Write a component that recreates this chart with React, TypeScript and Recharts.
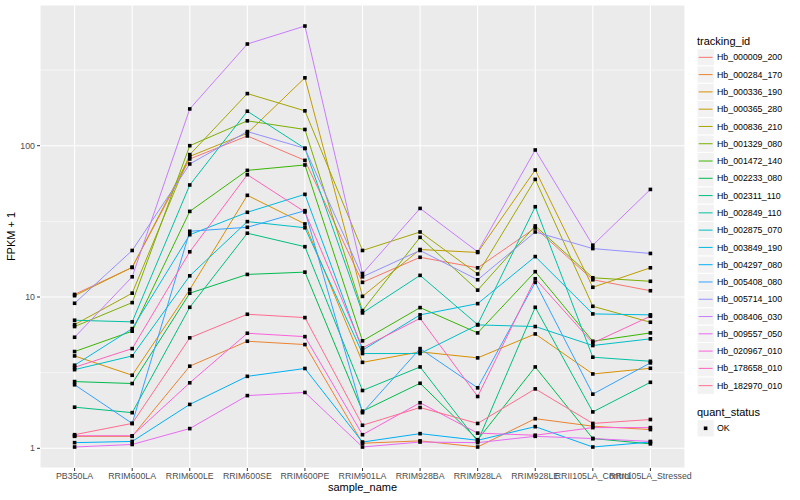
import { LineChart, Line, XAxis, YAxis, CartesianGrid } from 'recharts';

// sample order on the x axis
const samples = [
  'PB350LA', 'RRIM600LA', 'RRIM600LE', 'RRIM600SE', 'RRIM600PE', 'RRIM901LA',
  'RRIM928BA', 'RRIM928LA', 'RRIM928LE', 'RRII105LA_Control', 'RRII105LA_Stressed',
];

// FPKM + 1 per tracking_id, one value per sample
const hb_000009_200 = [10.4, 15.7, 81.7, 116, 80.0, 12.5, 18.3, 15.6, 28.6, 13.0, 11.0];
const hb_000284_170 = [1.2, 1.2, 3.49, 5.1, 4.85, 1.08, 1.12, 1.02, 1.57, 1.4, 1.33];
const hb_000336_190 = [4.08, 3.04, 11.2, 47.0, 30.4, 3.7, 4.34, 3.96, 5.7, 3.1, 3.38];
const hb_000365_280 = [10.2, 15.7, 85.0, 121, 281, 10.1, 20.6, 19.7, 69.1, 11.6, 15.6];
const hb_000836_210 = [6.57, 10.6, 87.3, 221, 170, 20.3, 26.9, 14.2, 59.9, 8.68, 6.81];
const hb_001329_080 = [6.38, 9.18, 100, 146, 128, 8.13, 24.8, 11.1, 29.5, 13.4, 12.7];
const hb_001472_140 = [4.36, 5.94, 36.8, 68.7, 74.6, 5.13, 8.51, 5.79, 14.7, 5.1, 5.79];
const hb_002233_080 = [2.76, 2.68, 10.6, 14.1, 14.6, 1.76, 2.69, 1.14, 3.45, 1.16, 1.07];
const hb_002311_110 = [1.87, 1.72, 8.55, 26.4, 21.5, 2.41, 3.45, 1.11, 8.55, 1.74, 2.73];
const hb_002849_110 = [7.02, 6.85, 55.0, 169, 96.0, 7.85, 13.9, 6.57, 39.5, 4.0, 3.76];
const hb_002875_070 = [3.31, 4.08, 13.8, 31.5, 28.7, 4.23, 4.23, 6.54, 6.38, 4.78, 5.29];
const hb_003849_190 = [3.54, 6.18, 25.8, 36.3, 47.7, 4.45, 7.62, 9.04, 18.5, 7.73, 7.62];
const hb_004297_080 = [1.09, 1.11, 1.95, 2.99, 3.37, 1.1, 1.25, 1.13, 1.39, 1.02, 1.1];
const hb_005408_080 = [2.63, 1.46, 27.2, 28.9, 37.2, 1.72, 4.56, 2.51, 12.5, 2.28, 3.67];
const hb_005714_100 = [9.09, 20.3, 75.7, 124, 96.0, 13.6, 20.3, 13.0, 26.9, 20.9, 19.4];
const hb_008406_030 = [5.42, 13.6, 175, 470, 618, 14.3, 38.5, 19.9, 93.7, 22.0, 51.4];
const hb_009557_050 = [1.02, 1.06, 1.35, 2.23, 2.34, 1.02, 1.1, 1.09, 1.2, 1.16, 1.11];
const hb_020967_010 = [1.21, 1.21, 2.71, 5.76, 5.47, 1.23, 2.0, 1.26, 1.22, 1.37, 1.37];
const hb_178658_010 = [3.43, 4.56, 19.9, 64.3, 36.5, 4.61, 7.23, 2.2, 13.2, 4.97, 7.46];
const hb_182970_010 = [1.23, 1.46, 5.37, 7.69, 7.31, 1.42, 1.86, 1.46, 2.47, 1.46, 1.55];

const trackingIds = [
  'Hb_000009_200', 'Hb_000284_170', 'Hb_000336_190', 'Hb_000365_280', 'Hb_000836_210',
  'Hb_001329_080', 'Hb_001472_140', 'Hb_002233_080', 'Hb_002311_110', 'Hb_002849_110',
  'Hb_002875_070', 'Hb_003849_190', 'Hb_004297_080', 'Hb_005408_080', 'Hb_005714_100',
  'Hb_008406_030', 'Hb_009557_050', 'Hb_020967_010', 'Hb_178658_010', 'Hb_182970_010',
];
const seriesValues = [
  hb_000009_200, hb_000284_170, hb_000336_190, hb_000365_280, hb_000836_210,
  hb_001329_080, hb_001472_140, hb_002233_080, hb_002311_110, hb_002849_110,
  hb_002875_070, hb_003849_190, hb_004297_080, hb_005408_080, hb_005714_100,
  hb_008406_030, hb_009557_050, hb_020967_010, hb_178658_010, hb_182970_010,
];

const yTicks = [1, 10, 100];
const yMinor = [3.162, 31.62, 316.2];

// ggplot hue palette, 20 levels
const colors = [
  '#F8766D', '#EA8331', '#D89000', '#C09B00', '#A3A500', '#7CAE00', '#39B600',
  '#00BB4E', '#00BF7D', '#00C1A3', '#00BFC4', '#00BAE0', '#00B0F6', '#35A2FF',
  '#9590FF', '#C77CFF', '#E76BF3', '#FA62DB', '#FF62BC', '#FF6C91',
];

const rows = samples.map((s, i) => {
  const row: Record<string, string | number> = { sample: s };
  trackingIds.forEach((id, k) => {
    row[id] = seriesValues[k][i];
  });
  return row;
});

const font = '"Liberation Sans", Arial, sans-serif';

const SquareDot = (props: any) => {
  const { cx, cy, index } = props;
  if (cx == null || cy == null) return <g key={index} />;
  return <rect key={index} x={cx - 1.8} y={cy - 1.8} width={3.6} height={3.6} fill="#000000" />;
};

const KEY = 17.28;
const keyTop = 48.7;

const App = () => {
  return (
    <div style={{ position: 'absolute', left: 0, top: 0, width: 800, height: 500, background: '#FFFFFF' }}>
      <LineChart width={800} height={500} data={rows} margin={{ top: 5, right: 115, bottom: 0, left: 0 }}>
        <CartesianGrid fill="#EBEBEB" stroke="#FFFFFF" strokeWidth={1.1} />
        <CartesianGrid
          vertical={false}
          horizontalValues={yMinor}
          stroke="#FFFFFF"
          strokeWidth={0.55}
          fill="none"
        />
        <XAxis
          dataKey="sample"
          interval={0}
          height={32}
          tickSize={3}
          tickMargin={2}
          axisLine={false}
          tickLine={{ stroke: '#333333' }}
          tick={{ fill: '#4D4D4D', fontSize: 8.8, fontFamily: font }}
          padding={{ left: 34.6, right: 34.6 }}
        />
        <YAxis
          type="number"
          scale="log"
          domain={[0.741, 851]}
          allowDataOverflow
          ticks={yTicks}
          width={40}
          tickSize={3}
          tickMargin={2}
          axisLine={false}
          tickLine={{ stroke: '#333333' }}
          tick={{ fill: '#4D4D4D', fontSize: 8.8, fontFamily: font }}
          tickFormatter={(v) => String(v)}
        />
        {trackingIds.map((id, k) => (
          <Line
            key={id}
            type="linear"
            dataKey={id}
            stroke={colors[k]}
            strokeWidth={1}
            dot={false}
            activeDot={false}
            isAnimationActive={false}
          />
        ))}
        {trackingIds.map((id) => (
          <Line
            key={id + '_pt'}
            type="linear"
            dataKey={id}
            stroke="none"
            dot={SquareDot}
            activeDot={false}
            isAnimationActive={false}
          />
        ))}
      </LineChart>
      <svg
        width={800}
        height={500}
        style={{ position: 'absolute', left: 0, top: 0, pointerEvents: 'none' }}
        fontFamily={font}
      >
        <text x={362.5} y={491} fontSize={11} textAnchor="middle" fill="#000000">
          sample_name
        </text>
        <text
          x={14.5}
          y={236.5}
          fontSize={11}
          textAnchor="middle"
          fill="#000000"
          transform="rotate(-90 14.5 236.5)"
        >
          FPKM + 1
        </text>
        <text x={697} y={44.5} fontSize={11} fill="#000000">
          tracking_id
        </text>
        {trackingIds.map((id, k) => {
          const top = keyTop + k * KEY;
          return (
            <g key={id}>
              <rect x={697} y={top} width={KEY} height={KEY} fill="#F2F2F2" stroke="#FFFFFF" strokeWidth={1} />
              <line x1={698.7} x2={712.6} y1={top + KEY / 2} y2={top + KEY / 2} stroke={colors[k]} strokeWidth={1} />
              <text x={717} y={top + KEY / 2 + 3.1} fontSize={8.8} fill="#000000">
                {id}
              </text>
            </g>
          );
        })}
        <text x={697} y={415.5} fontSize={11} fill="#000000">
          quant_status
        </text>
        <rect x={697} y={419.7} width={KEY} height={KEY} fill="#F2F2F2" stroke="#FFFFFF" strokeWidth={1} />
        <rect x={703.8} y={426.5} width={3.6} height={3.6} fill="#000000" />
        <text x={717} y={431.4} fontSize={8.8} fill="#000000">
          OK
        </text>
      </svg>
    </div>
  );
};

export default App;
